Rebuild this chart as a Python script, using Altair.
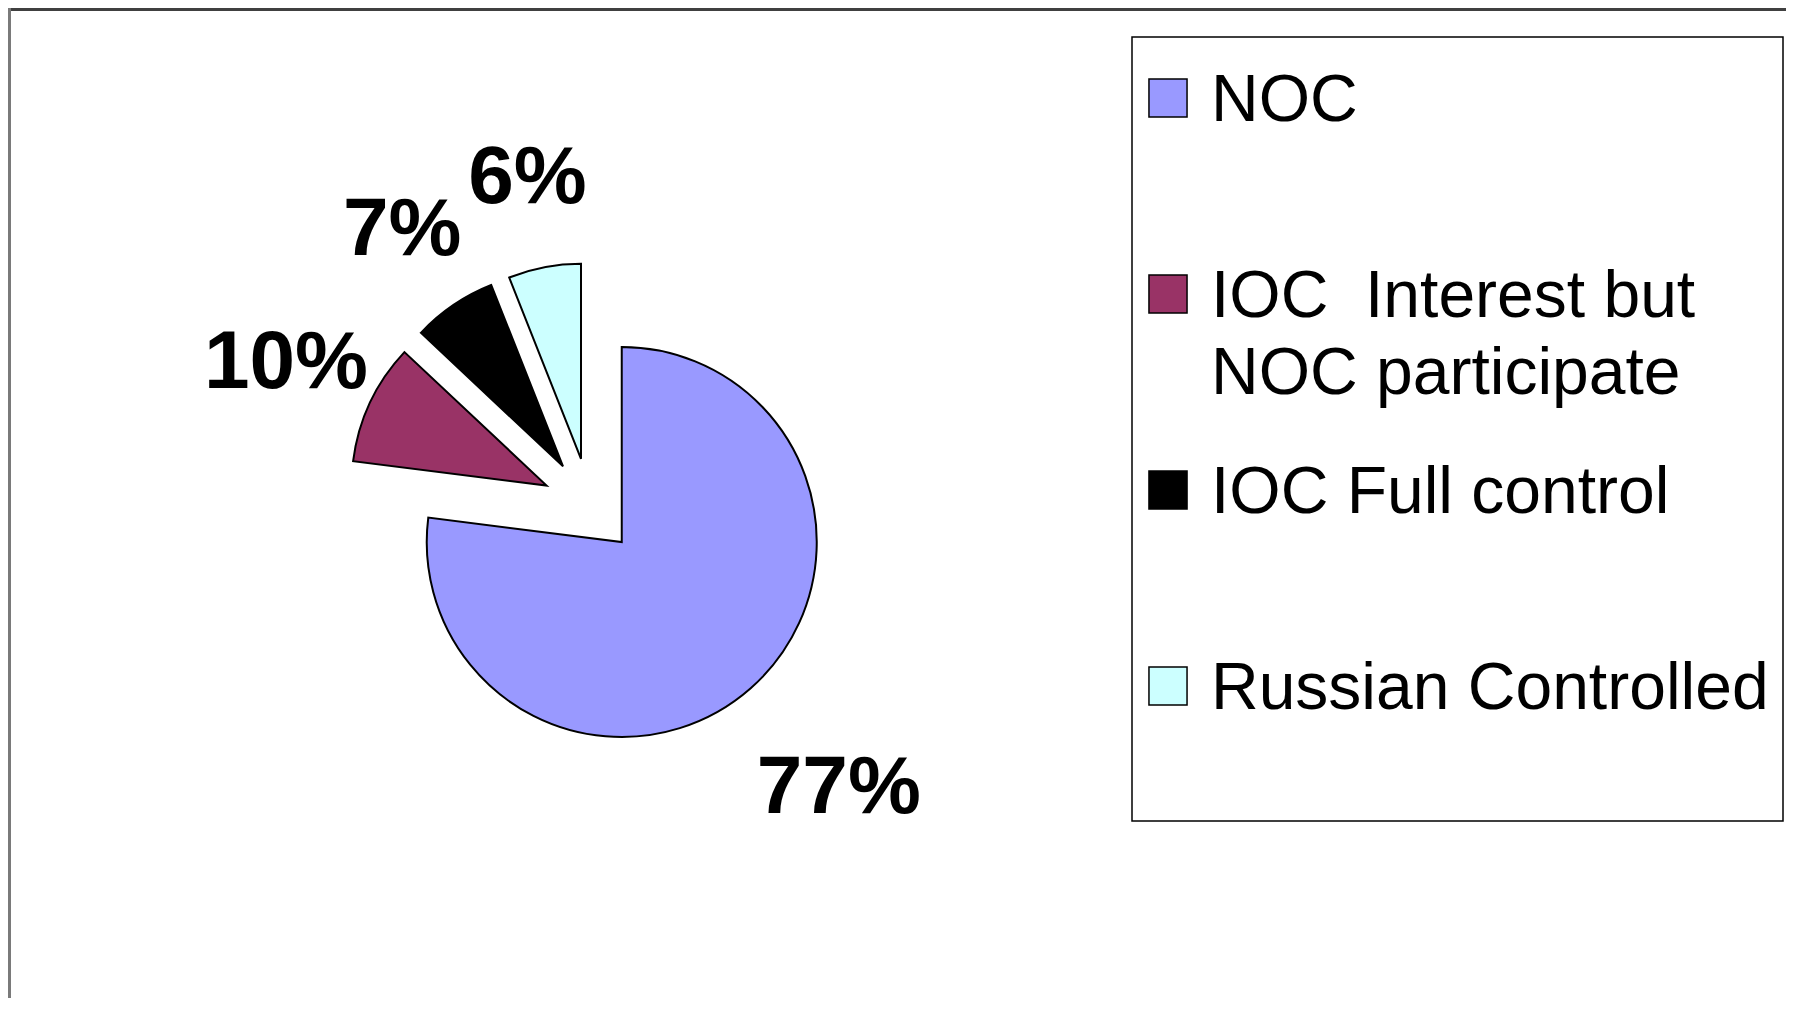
import altair as alt
import pandas as pd

# ---- data ----
categories = ["NOC", "IOC\u00a0\u00a0Interest but\nNOC participate", "IOC Full control", "Russian Controlled"]
shares = [77, 10, 7, 6]
pct_labels = ["77%", "10%", "7%", "6%"]
colors = ["#9999FF", "#993366", "#000000", "#CCFFFF"]

df = pd.DataFrame({"category": categories, "share": shares, "label": pct_labels,
                   "order": list(range(len(categories)))})
one = pd.DataFrame({"k": [0]})

# ---- layout parameters (pixels inside the chart) ----
W, H = 1778, 990
CX, CY = 582, 498          # pie centre
R = 195                    # pie radius
EXPLODE = 48               # slice explosion distance
FONT = "Liberation Sans"

base = (
    alt.Chart(df)
    .transform_window(cum="sum(share)", sort=[alt.SortField("order")], frame=[None, 0])
    .transform_joinaggregate(total="sum(share)")
    .transform_calculate(
        a0="(datum.cum - datum.share) / datum.total * 2 * PI",
        a1="datum.cum / datum.total * 2 * PI",
        mid="(datum.cum - datum.share / 2) / datum.total * 2 * PI",
        lr="330 + 0.6 * datum.share",
    )
    .transform_calculate(
        px=f"{CX} + {EXPLODE} * sin(datum.mid)",
        py=f"{CY} - {EXPLODE} * cos(datum.mid)",
        lx=f"{CX} + datum.lr * sin(datum.mid)",
        ly=f"{CY} - datum.lr * cos(datum.mid)",
    )
)

color_enc = alt.Color("category:N", scale=alt.Scale(domain=categories, range=colors), legend=None)

pie = base.mark_arc(outerRadius=R, stroke="black", strokeWidth=2).encode(
    theta=alt.Theta("a0:Q", scale=None, stack=False),
    theta2="a1:Q",
    x=alt.X("px:Q", scale=None, axis=None),
    y=alt.Y("py:Q", scale=None, axis=None),
    color=color_enc,
)

pct = base.mark_text(font=FONT, fontSize=82, fontWeight="bold", color="black",
                     align="center", baseline="middle").encode(
    x=alt.X("lx:Q", scale=None, axis=None),
    y=alt.Y("ly:Q", scale=None, axis=None),
    text="label:N",
)

# frame lines (top and left edges of the chart area)
top_line = alt.Chart(one).mark_rule(color="#404040", strokeWidth=3).encode(
    x=alt.value(0), x2=alt.value(W), y=alt.value(1.5))
left_line = alt.Chart(one).mark_rule(color="#7a7a7a", strokeWidth=3).encode(
    x=alt.value(1.5), y=alt.value(0), y2=alt.value(H))

# legend box
legend_box = alt.Chart(one).mark_rect(fill="white", stroke="black", strokeWidth=1.5).encode(
    x=alt.value(1124), x2=alt.value(1775), y=alt.value(29), y2=alt.value(813))

row_scale = alt.Scale(type="point", domain=categories, range=[90, 678], padding=0)

legend_sym = alt.Chart(df).mark_square(size=1450, stroke="black", strokeWidth=1.5, opacity=1).encode(
    x=alt.value(1160),
    y=alt.Y("category:N", scale=row_scale, axis=None),
    color=color_enc,
)
legend_txt = alt.Chart(df).mark_text(font=FONT, fontSize=66, color="black", align="left",
                                     baseline="alphabetic", dy=23, lineBreak="\n",
                                     lineHeight=77).encode(
    x=alt.value(1203),
    y=alt.Y("category:N", scale=row_scale, axis=None),
    text="category:N",
)

chart = (
    alt.layer(top_line, left_line, legend_box, pie, pct, legend_sym, legend_txt)
    .resolve_scale(x="independent", y="independent")
    .properties(width=W, height=H, padding=0, background="white",
                autosize=alt.AutoSizeParams(type="none"))
    .configure_view(stroke=None)
)

chart.save("out.html", embed_options={"renderer": "svg", "actions": False})
